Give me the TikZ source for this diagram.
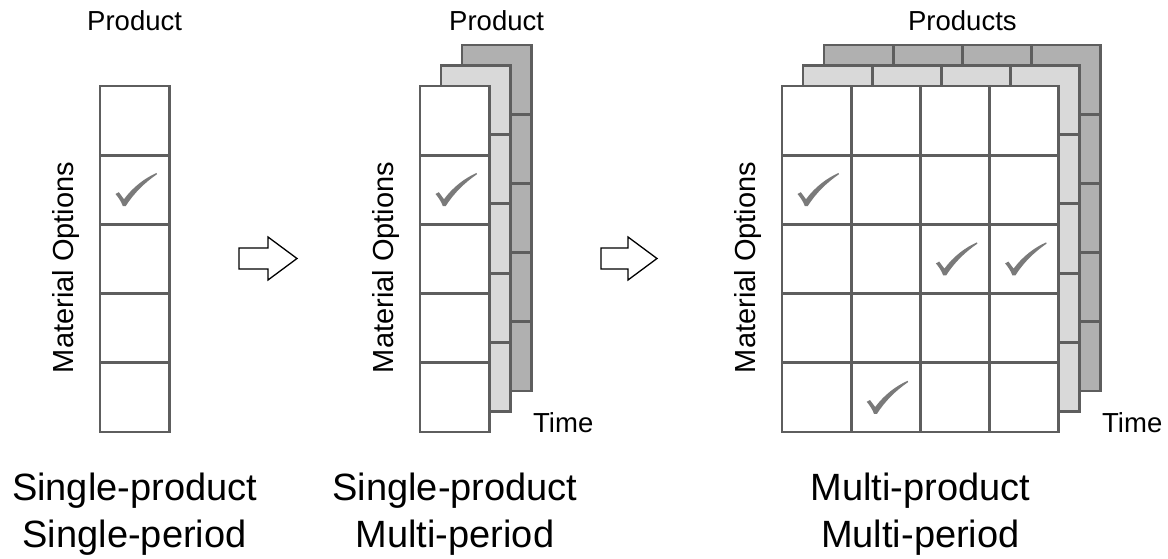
\documentclass[tikz,border=0pt]{standalone}
\usepackage{fontspec}
\setmainfont{Liberation Sans}
\definecolor{edgegray}{HTML}{5E5E5E}
\definecolor{sheetlight}{HTML}{D9D9D9}
\definecolor{sheetdark}{HTML}{B0B0B0}
\definecolor{checkgray}{HTML}{7A7A7A}

% side of one grid cell
\def\cs{69.2}
% a sheet of cells: #1 x, #2 y (top left), #3 columns, #4 fill colour; always five rows
\newcommand\cellsheet[4]{%
  \draw[gridline,fill=#4] (#1,#2) rectangle ++(#3*\cs,5*\cs);
  \foreach \r in {1,...,4} \draw[gridline] (#1,#2+\r*\cs) -- ++(#3*\cs,0);
  \foreach \k in {1,...,#3} {\ifnum\k<#3 \draw[gridline] (#1+\k*\cs,#2) -- ++(0,5*\cs);\fi}%
}

\begin{document}
\begin{tikzpicture}[x=1pt,y=-1pt,
  gridline/.style={draw=edgegray,line width=2.8pt},
  blockarrow/.style={draw=black,line width=1.3pt,fill=white,line join=miter},
  smalllabel/.style={font=\fontsize{27.5}{32}\selectfont,anchor=base,inner sep=0pt},
  sidelabel/.style={font=\fontsize{29}{34}\selectfont,anchor=base,rotate=90,inner sep=0pt},
  biglabel/.style={font=\fontsize{38}{45}\selectfont,anchor=base,inner sep=0pt},
  checkglyph/.pic={
    \fill[checkgray] (0.5,21) -- (3.8,19.2) -- (9,26.2)
      .. controls (18,14) and (30,5) .. (41.5,0) -- (42,1.2)
      .. controls (30,9.5) and (19,20) .. (10.8,33) -- (7.8,33)
      .. controls (6,28) and (3,24) .. (0.5,21) -- cycle;
  }]
\useasboundingbox (0,0) rectangle (1168,559);

% ---------- single product, single period ----------
\cellsheet{100}{86}{1}{white}
\pic at (115,173) {checkglyph};
\node[smalllabel] (prodA) at (134.6,31) {Product};
\node[sidelabel] (matA) at (73,267.5) {Material Options};
\node[biglabel] (titleA1) at (134.6,500) {Single-product};
\node[biglabel] (titleA2) at (134.6,547) {Single-period};

% ---------- first arrow ----------
\draw[blockarrow] (239,248) -- (268,248) -- (268,237) -- (297,258.5)
  -- (268,280) -- (268,269) -- (239,269) -- cycle;

% ---------- single product, multi period ----------
\cellsheet{462}{45}{1}{sheetdark}
\cellsheet{441}{65.5}{1}{sheetlight}
\cellsheet{420}{86}{1}{white}
\pic at (435,173) {checkglyph};
\node[smalllabel] (prodB) at (496.6,31) {Product};
\node[sidelabel] (matB) at (393,267.5) {Material Options};
\node[smalllabel,anchor=base west] (timeB) at (533,432) {Time};
\node[biglabel] (titleB1) at (455,500) {Single-product};
\node[biglabel] (titleB2) at (455,547) {Multi-period};

% ---------- second arrow ----------
\draw[blockarrow] (601,248) -- (628,248) -- (628,237) -- (657,258.5)
  -- (628,280) -- (628,269) -- (601,269) -- cycle;

% ---------- multi product, multi period ----------
\cellsheet{824}{45}{4}{sheetdark}
\cellsheet{803}{65.5}{4}{sheetlight}
\cellsheet{782}{86}{4}{white}
\pic at (797,173) {checkglyph};
\pic at (935.4,242.4) {checkglyph};
\pic at (1004.6,242.4) {checkglyph};
\pic at (866.2,380.8) {checkglyph};
\node[smalllabel] (prodC) at (962.4,31) {Products};
\node[sidelabel] (matC) at (755,267.5) {Material Options};
\node[smalllabel,anchor=base west] (timeC) at (1102,432) {Time};
\node[biglabel] (titleC1) at (920.4,500) {Multi-product};
\node[biglabel] (titleC2) at (920.4,547) {Multi-period};
\end{tikzpicture}
\end{document}
